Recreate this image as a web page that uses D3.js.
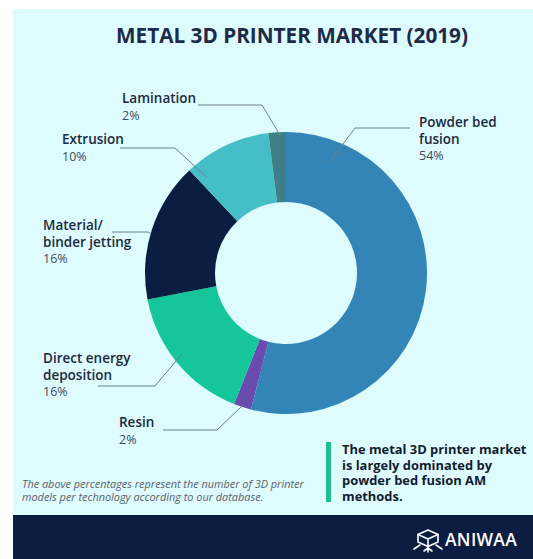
<!DOCTYPE html>
<html>
<head>
<meta charset="utf-8">
<script src="https://cdn.jsdelivr.net/npm/d3@7"></script>
<style>
  html, body { margin: 0; padding: 0; background: #ffffff; }
  svg { display: block; }
  text { font-family: "Open Sans", "Noto Sans", sans-serif; }
</style>
</head>
<body>
<script>
// Metal 3D printer market share by technology (2019)
const technologies = ["Powder bed fusion", "Resin", "Direct energy deposition", "Material/ binder jetting", "Extrusion", "Lamination"];
const shares = [54, 2, 16, 16, 10, 2];
const sliceColors = ["#3385b8", "#6a4bb0", "#14c69a", "#0b1e42", "#45bec8", "#3e7f88"];
const labelLines = [
  ["Powder bed", "fusion"],
  ["Resin"],
  ["Direct energy", "deposition"],
  ["Material/", "binder jetting"],
  ["Extrusion"],
  ["Lamination"]
];
const noteLines = ["The above percentages represent the number of 3D printer", "models per technology according to our database."];
const takeawayLines = ["The metal 3D printer market", "is largely dominated by", "powder bed fusion AM", "methods."];

const W = 533, H = 559;
const svg = d3.select("body").append("svg").attr("width", W).attr("height", H);

// panel background and footer band
svg.append("rect").attr("x", 13).attr("y", 9).attr("width", W - 13).attr("height", H - 9).attr("fill", "#defbfd");
svg.append("rect").attr("x", 13).attr("y", 515).attr("width", W - 13).attr("height", H - 515).attr("fill", "#0b1d40");

// title
svg.append("text").attr("x", 292).attr("y", 43).attr("text-anchor", "middle")
  .attr("font-size", 20.5).attr("font-weight", 700).attr("fill", "#1d2b48")
  .attr("textLength", 352).attr("lengthAdjust", "spacingAndGlyphs")
  .text("METAL 3D PRINTER MARKET (2019)");

// donut
const cx = 286, cy = 273, rOuter = 141, rInner = 71;
const pie = d3.pie().sort(null).value(d => d)(shares);
const arc = d3.arc().innerRadius(rInner).outerRadius(rOuter);
const g = svg.append("g").attr("transform", `translate(${cx},${cy})`);
g.selectAll("path").data(pie).join("path")
  .attr("d", arc).attr("fill", (d, i) => sliceColors[i]);

// leader lines: anchor inside the slice (t = fraction along the slice, r = fraction of radius),
// then an elbow and a horizontal run towards the label
const leaders = [
  { t: 0.11, r: 0.845, elbow: [355, 128], end: [410, 128], text: [419, 127] },
  { t: 0.5,  r: 0.985, elbow: [217, 430], end: [163, 430], text: [119, 427] },
  { t: 0.53, r: 0.935, elbow: [155, 386], end: [98, 386],  text: [43, 363] },
  { t: 0.47, r: 1.0,   elbow: [148, 232], end: [112, 232], text: [43, 230] },
  { t: 0.1,  r: 0.88,  elbow: [175, 148], end: [120, 148], text: [62, 144] },
  { t: 0.65, r: 0.98,  elbow: [262, 105], end: [198, 105], text: [122, 103] }
];
const line = d3.line();
pie.forEach((d, i) => {
  const L = leaders[i];
  const a = d.startAngle + L.t * (d.endAngle - d.startAngle);
  const rr = rOuter * L.r;
  const p0 = [cx + rr * Math.sin(a), cy - rr * Math.cos(a)];
  svg.append("path").attr("d", line([p0, L.elbow, L.end]))
    .attr("fill", "none").attr("stroke", "#6d7f88").attr("stroke-width", 1);
  const t = svg.append("text").attr("x", L.text[0]).attr("y", L.text[1]).attr("font-size", 13.5);
  labelLines[i].forEach((s, k) => {
    t.append("tspan").attr("x", L.text[0]).attr("dy", k === 0 ? 0 : 16.5)
      .attr("font-weight", 600).attr("fill", "#1b2a40").text(s);
  });
  t.append("tspan").attr("x", L.text[0]).attr("dy", 16.5)
    .attr("font-weight", 400).attr("fill", "#3d4d5c").attr("font-size", 12.5).text(shares[i] + "%");
});

// note about the data
const note = svg.append("text").attr("x", 22).attr("y", 488)
  .attr("font-size", 10.9).attr("font-style", "italic").attr("fill", "#5a6168");
noteLines.forEach((s, k) => {
  note.append("tspan").attr("x", 22).attr("dy", k === 0 ? 0 : 12.5).text(s);
});

// takeaway with accent bar
svg.append("rect").attr("x", 326).attr("y", 442).attr("width", 5).attr("height", 60).attr("fill", "#1fbf8c");
const takeaway = svg.append("text").attr("x", 342).attr("y", 454)
  .attr("font-size", 12.9).attr("font-weight", 700).attr("fill", "#121c30");
takeawayLines.forEach((s, k) => {
  takeaway.append("tspan").attr("x", 342).attr("dy", k === 0 ? 0 : 15.5).text(s);
});

// brand mark
const logo = svg.append("g").attr("stroke", "#ffffff").attr("fill", "none").attr("stroke-width", 1.6)
  .attr("stroke-linejoin", "round").attr("stroke-linecap", "round");
logo.append("path").attr("d", "M428,530 L438,534.5 L438,542 L428,546.5 L418,542 L418,534.5 Z");
logo.append("path").attr("d", "M418,534.5 L428,539 L438,534.5 M428,539 L428,546.5");
logo.append("path").attr("d", "M414,549 L420,545 M442,549 L436,545 M428,546.5 L428,552 M424,551 L428,548 L432,551");
svg.append("text").attr("x", 445).attr("y", 546).attr("font-size", 17.5).attr("font-weight", 600)
  .attr("fill", "#ffffff").attr("letter-spacing", 0.3).text("ANIWAA");
</script>
</body>
</html>
